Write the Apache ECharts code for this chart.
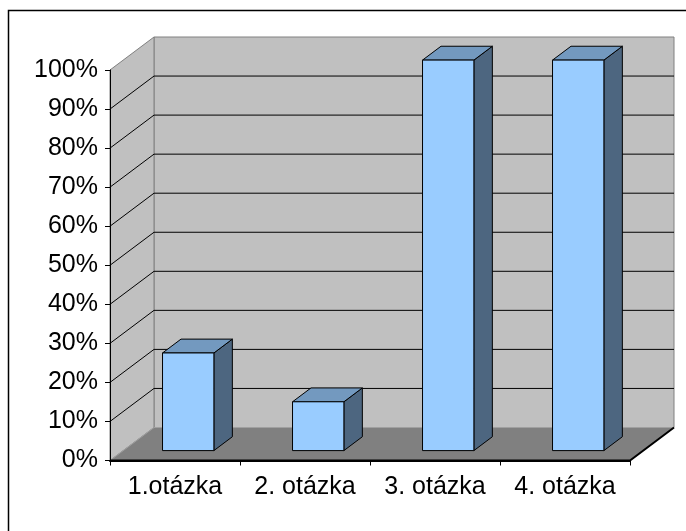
<!DOCTYPE html>
<html>
<head>
<meta charset="utf-8">
<script src="https://cdn.jsdelivr.net/npm/echarts@6/dist/echarts.min.js"></script>
<style>
  html, body { margin: 0; padding: 0; background: #fff; }
  #chart { width: 686px; height: 531px; }
</style>
</head>
<body>
<div id="chart"></div>
<script>
// Answer share per question
const categories = ['1.otázka', '2. otázka', '3. otázka', '4. otázka'];
const values = [25, 12.5, 100, 100];

// Value axis range (percent)
const yMin = 0;
const yMax = 100;
const yStep = 10;

// Pseudo-3D depth of the plot box, in pixels (towards the back wall)
const DEPTH = [44, -33];
const BAR_FRONT = 0.30;   // bar front face, as a fraction of the depth
const BAR_BACK = 0.72;    // bar back face
const BAR_RATIO = 0.395;  // bar width relative to the category width

const FONT = "'Liberation Sans', Arial, sans-serif";

const chart = echarts.init(document.getElementById('chart'), null, { renderer: 'canvas' });

function shift(p, t) {
  return [p[0] + DEPTH[0] * t, p[1] + DEPTH[1] * t];
}

// Walls, floor and gridlines of the plot box
function renderBox(params, api) {
  const catW = api.size([1, 0])[0];
  const n = categories.length;
  const xL = api.coord([0, yMin])[0] - catW / 2;
  const xR = api.coord([n - 1, yMin])[0] + catW / 2;
  const yB = api.coord([0, yMin])[1];
  const yT = api.coord([0, yMax])[1];
  const children = [];

  const fl = [xL, yB], fr = [xR, yB], tl = [xL, yT];
  const bl = shift(fl, 1), br = shift(fr, 1), btl = shift(tl, 1), btr = shift([xR, yT], 1);

  // back wall
  children.push({
    type: 'polygon',
    shape: { points: [btl, btr, br, bl] },
    style: { fill: '#C0C0C0', stroke: '#808080', lineWidth: 1 }
  });
  // left side wall
  children.push({
    type: 'polygon',
    shape: { points: [tl, btl, bl, fl] },
    style: { fill: '#C0C0C0', stroke: '#808080', lineWidth: 1 }
  });
  // gridlines on both walls
  for (let v = yMin + yStep; v < yMax; v += yStep) {
    const y = api.coord([0, v])[1];
    const a = [xL, y], b = shift(a, 1), c = shift([xR, y], 1);
    children.push({
      type: 'polyline',
      shape: { points: [a, b, c] },
      style: { stroke: '#000', lineWidth: 1, fill: null }
    });
  }
  // floor
  children.push({
    type: 'polygon',
    shape: { points: [fl, fr, br, bl] },
    style: { fill: '#808080', stroke: '#A0A0A0', lineWidth: 1 }
  });
  // floor front and right edges
  children.push({
    type: 'polyline',
    shape: { points: [fl, fr, br] },
    style: { stroke: '#000', lineWidth: 2, fill: null }
  });
  return { type: 'group', children: children };
}

// 3D columns
function renderBar(params, api) {
  const catW = api.size([1, 0])[0];
  const bw = catW * BAR_RATIO;
  const base = api.coord([api.value(0), yMin]);
  const top = api.coord([api.value(0), api.value(1)]);
  const f = shift([base[0] - bw / 2, top[1]], BAR_FRONT);
  const L = f[0], T = f[1], R = L + bw;
  const B = shift(base, BAR_FRONT)[1];
  const dx = DEPTH[0] * (BAR_BACK - BAR_FRONT);
  const dy = DEPTH[1] * (BAR_BACK - BAR_FRONT);
  const edge = { stroke: '#000', lineWidth: 1, lineJoin: 'round' };
  return {
    type: 'group',
    children: [
      { type: 'polygon', shape: { points: [[R, T], [R + dx, T + dy], [R + dx, B + dy], [R, B]] },
        style: Object.assign({ fill: '#4D6680' }, edge) },
      { type: 'polygon', shape: { points: [[L, T], [R, T], [R + dx, T + dy], [L + dx, T + dy]] },
        style: Object.assign({ fill: '#7399BF' }, edge) },
      { type: 'rect', shape: { x: L, y: T, width: bw, height: B - T },
        style: Object.assign({ fill: '#99CCFF' }, edge) }
    ]
  };
}

const option = {
  animation: false,
  backgroundColor: '#fff',
  graphic: [{
    type: 'rect',
    z: 100,
    shape: { x: 8.5, y: 10.5, width: 700, height: 560 },
    style: { fill: null, stroke: '#000', lineWidth: 1.5 },
    silent: true
  }],
  grid: { left: 110, top: 70, width: 520, height: 390.5, containLabel: false },
  xAxis: {
    type: 'category',
    data: categories,
    boundaryGap: true,
    z: 10,
    axisLine: { show: true, lineStyle: { color: '#000', width: 2 } },
    axisTick: { show: true, length: 5, lineStyle: { color: '#000', width: 1 } },
    axisLabel: { color: '#000', fontSize: 25, fontFamily: FONT, margin: 14, interval: 0, hideOverlap: false },
    splitLine: { show: false }
  },
  yAxis: {
    type: 'value',
    min: yMin,
    max: yMax,
    interval: yStep,
    z: 10,
    axisLine: { show: true, lineStyle: { color: '#000', width: 1 } },
    axisTick: { show: true, length: 5, lineStyle: { color: '#000', width: 1 } },
    axisLabel: { color: '#000', fontSize: 25, fontFamily: FONT, margin: 12, formatter: '{value}%' },
    splitLine: { show: false }
  },
  series: [
    {
      type: 'custom',
      z: 1,
      silent: true,
      clip: false,
      renderItem: renderBox,
      data: [[0, 0]]
    },
    {
      type: 'custom',
      z: 3,
      silent: true,
      clip: false,
      renderItem: renderBar,
      encode: { x: 0, y: 1 },
      data: values.map((v, i) => [i, v])
    }
  ]
};

chart.setOption(option);
</script>
</body>
</html>
